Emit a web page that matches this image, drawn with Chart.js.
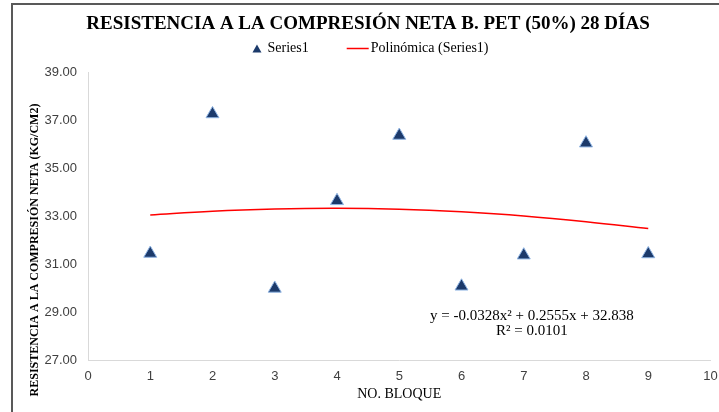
<!DOCTYPE html>
<html>
<head>
<meta charset="utf-8">
<script src="https://cdn.jsdelivr.net/npm/chart.js@4/dist/chart.umd.min.js"></script>
<style>
  html, body { margin: 0; padding: 0; background: #fff; }
  #wrap { position: relative; width: 719px; height: 412px; }
  #marco { position: absolute; left: 11px; top: 3px; right: 0; bottom: 0;
           border-left: 2px solid #595959; border-top: 2px solid #595959; pointer-events: none; }
</style>
</head>
<body>
<div id="wrap">
  <canvas id="grafico" width="719" height="412"></canvas>
  <div id="marco"></div>
</div>
<script>
// datos
const bloques = [1, 2, 3, 4, 5, 6, 7, 8, 9];
const resistencia = [31.45, 37.28, 29.99, 33.65, 36.38, 30.08, 31.38, 36.06, 31.43];
// línea de tendencia polinómica
const tendencia = [33.06, 33.22, 33.31, 33.34, 33.30, 33.19, 33.02, 32.78, 32.49];
const ecuacion = 'y = -0.0328x² + 0.2555x + 32.838';
const r2 = 'R² = 0.0101';
const tituloY = 'RESISTENCIA A LA COMPRESIÓN NETA (KG/CM2)';

const serif = 'Liberation Serif';
const sans = 'Liberation Sans';
const azul = '#1c3a6b';
const rojo = '#ff0000';

// leyenda, título del eje Y y ecuación de la tendencia
const textosExtra = {
  id: 'textosExtra',
  afterDatasetsDraw(chart) {
    const ctx = chart.ctx;
    const ds = chart.data.datasets;
    ctx.save();
    ctx.fillStyle = '#000';
    ctx.textBaseline = 'middle';

    // leyenda
    ctx.font = '14px "' + serif + '"';
    const w1 = ctx.measureText(ds[0].label).width;
    const w2 = ctx.measureText(ds[1].label).width;
    const total = 9 + 6 + w1 + 38 + 22 + 2 + w2;
    let lx = 370.5 - total / 2;
    const ly = 48.5;
    ctx.fillStyle = azul;
    ctx.beginPath();
    ctx.moveTo(lx + 4.5, ly - 4); ctx.lineTo(lx + 9, ly + 4); ctx.lineTo(lx, ly + 4);
    ctx.closePath(); ctx.fill();
    lx += 15;
    ctx.fillStyle = '#000';
    ctx.textAlign = 'left';
    ctx.fillText(ds[0].label, lx, ly);
    lx += w1 + 38;
    ctx.strokeStyle = rojo; ctx.lineWidth = 1.5;
    ctx.beginPath(); ctx.moveTo(lx, ly); ctx.lineTo(lx + 22, ly); ctx.stroke();
    lx += 24;
    ctx.fillText(ds[1].label, lx, ly);

    // ecuación
    ctx.textAlign = 'center';
    ctx.font = '15px "' + serif + '"';
    const x = chart.scales.x.getPixelForValue(7.13);
    const y = chart.scales.y.getPixelForValue(28.85);
    ctx.fillText(ecuacion, x, y);
    ctx.fillText(r2, x, y + 15);

    // título eje Y
    ctx.translate(35, 250);
    ctx.rotate(-Math.PI / 2);
    ctx.font = 'bold 12px "' + serif + '"';
    ctx.fillText(tituloY, 0, 0);
    ctx.restore();
  }
};

const ctx = document.getElementById('grafico').getContext('2d');
new Chart(ctx, {
  type: 'scatter',
  data: {
    datasets: [{
      label: 'Series1',
      data: bloques.map((b, i) => ({ x: b, y: resistencia[i] })),
      pointStyle: 'triangle',
      pointRadius: 7.5,
      pointHoverRadius: 7.5,
      backgroundColor: azul,
      borderColor: '#8fb4e3',
      borderWidth: 1,
      order: 1
    }, {
      label: 'Polinómica (Series1)',
      type: 'line',
      data: bloques.map((b, i) => ({ x: b, y: tendencia[i] })),
      borderColor: rojo,
      backgroundColor: rojo,
      borderWidth: 1.5,
      pointRadius: 0,
      tension: 0.4,
      fill: false,
      order: 2
    }]
  },
  options: {
    responsive: false,
    animation: false,
    layout: { padding: { left: 24, right: 7, top: 6, bottom: 6 } },
    scales: {
      x: {
        type: 'linear',
        min: 0,
        max: 10,
        afterFit: s => { s.height = 46; s.paddingRight = 0; },
        ticks: { stepSize: 1, padding: 9, color: '#404040', font: { family: sans, size: 13 } },
        grid: { display: false, drawTicks: false },
        border: { color: '#d9d9d9' },
        title: { display: true, text: 'NO. BLOQUE', color: '#000', padding: { top: 0, bottom: 3 },
                 font: { family: serif, size: 14 } }
      },
      y: {
        min: 27,
        max: 39,
        afterFit: s => { s.width = 64; },
        ticks: { stepSize: 2, padding: 11, color: '#404040', font: { family: sans, size: 13 },
                 callback: v => v.toFixed(2) },
        grid: { display: false, drawTicks: false },
        border: { color: '#d9d9d9' }
      }
    },
    plugins: {
      title: {
        display: true,
        text: 'RESISTENCIA A LA COMPRESIÓN NETA B. PET (50%) 28 DÍAS',
        color: '#000',
        font: { family: serif, size: 19, weight: 'bold' },
        padding: { top: 7, bottom: 37 }
      },
      legend: { display: false },
      tooltip: { enabled: false }
    }
  },
  plugins: [textosExtra]
});
</script>
</body>
</html>
